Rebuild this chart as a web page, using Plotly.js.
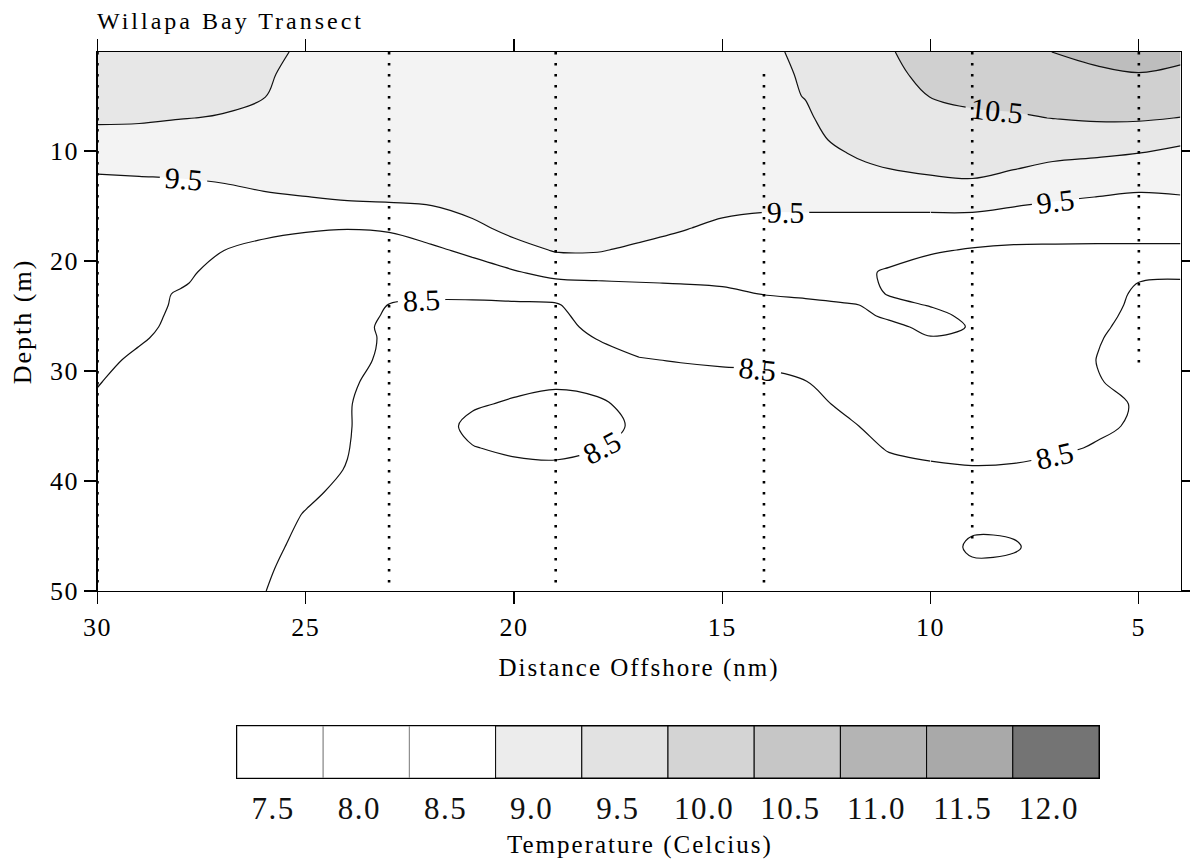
<!DOCTYPE html>
<html>
<head>
<meta charset="utf-8">
<script src="https://cdn.plot.ly/plotly-3.0.1.min.js"></script>
<style>
html,body{margin:0;padding:0;background:#fff;}
#chart{width:1190px;height:865px;}
.gtitle{letter-spacing:3px;}
.xtitle,.ytitle{letter-spacing:2px;}
.annotation-text{letter-spacing:2px;}
.xtick text,.ytick text,.x2tick text{letter-spacing:1.5px;}
</style>
</head>
<body>
<div id="chart"></div>
<script>
// Distance offshore (nm) of each grid column, depth (m) of each grid row
const distance = [30,29,28,27,26,25,24,23,22,21,20,19,18,17,16,15,14,13,12,11,10,9,8,7,6,5,4];
const depth = [1,3,5,7,9,11,13,15,17,19,21,22,23,24,25,26,27,29,31,33,35,37,39,41,43,46,48,50];

// Temperature (deg C) read from the section, one list per distance column, top to bottom
const temp30 = [10.30,10.21,10.12,10.06,9.86,9.61,9.41,9.38,9.34,9.30,9.26,9.24,9.22,9.20,9.18,9.15,9.13,9.07,9.01,8.97,8.94,8.91,8.88,8.85,8.82,8.77,8.73,8.70];
const temp29 = [10.28,10.19,10.11,10.05,9.85,9.63,9.43,9.40,9.35,9.30,9.24,9.21,9.17,9.14,9.10,9.07,9.03,8.95,8.92,8.89,8.86,8.83,8.80,8.77,8.74,8.70,8.67,8.65];
const temp28 = [10.25,10.17,10.09,10.01,9.81,9.65,9.45,9.38,9.29,9.21,9.13,9.05,8.95,8.94,8.93,8.92,8.91,8.89,8.87,8.85,8.82,8.80,8.77,8.75,8.72,8.68,8.64,8.60];
const temp27 = [10.20,10.13,10.08,9.98,9.85,9.70,9.49,9.33,9.17,9.01,8.81,8.80,8.79,8.78,8.77,8.76,8.75,8.73,8.71,8.69,8.67,8.65,8.63,8.61,8.60,8.58,8.57,8.55];
const temp26 = [10.06,10.04,10.01,9.91,9.84,9.75,9.58,9.34,9.12,8.88,8.86,8.85,8.84,8.83,8.82,8.81,8.80,8.78,8.76,8.74,8.71,8.68,8.65,8.62,8.59,8.55,8.53,8.51];
const temp25 = [9.96,9.90,9.84,9.79,9.74,9.69,9.67,9.37,9.06,8.76,8.80,8.79,8.78,8.77,8.76,8.75,8.74,8.72,8.70,8.68,8.65,8.62,8.58,8.54,8.49,8.45,8.41,8.31];
const temp24 = [9.93,9.88,9.84,9.80,9.76,9.72,9.72,9.43,9.02,8.72,8.76,8.76,8.76,8.76,8.75,8.74,8.72,8.62,8.55,8.52,8.52,8.51,8.49,8.45,8.40,8.34,8.30,8.26];
const temp23 = [9.90,9.86,9.83,9.80,9.78,9.76,9.75,9.45,9.06,8.76,8.66,8.62,8.58,8.49,8.43,8.37,8.41,8.42,8.38,8.35,8.34,8.33,8.31,8.29,8.27,8.24,8.22,8.20];
const temp22 = [9.88,9.85,9.82,9.80,9.78,9.76,9.74,9.49,9.22,8.92,8.78,8.68,8.58,8.43,8.38,8.35,8.34,8.33,8.33,8.35,8.38,8.35,8.31,8.29,8.27,8.24,8.22,8.20];
const temp21 = [9.87,9.84,9.81,9.79,9.77,9.75,9.72,9.67,9.37,9.10,8.80,8.69,8.58,8.43,8.38,8.36,8.35,8.36,8.38,8.47,8.56,8.49,8.40,8.33,8.29,8.25,8.23,8.21];
const temp20 = [9.86,9.83,9.81,9.79,9.77,9.75,9.73,9.71,9.66,9.31,8.97,8.75,8.60,8.45,8.39,8.36,8.35,8.37,8.43,8.53,8.58,8.54,8.44,8.36,8.31,8.27,8.24,8.22];
const temp19 = [9.85,9.82,9.80,9.78,9.76,9.74,9.72,9.68,9.62,9.54,9.13,8.92,8.66,8.46,8.40,8.37,8.36,8.40,8.47,8.56,8.60,8.56,8.45,8.37,8.32,8.28,8.25,8.23];
const temp18 = [9.84,9.81,9.79,9.77,9.75,9.73,9.71,9.67,9.61,9.54,9.15,8.96,8.85,8.76,8.68,8.60,8.51,8.40,8.44,8.53,8.56,8.51,8.42,8.36,8.32,8.28,8.25,8.23];
const temp17 = [9.83,9.80,9.78,9.76,9.75,9.74,9.73,9.72,9.70,9.40,9.14,8.99,8.90,8.83,8.77,8.70,8.64,8.48,8.44,8.44,8.47,8.44,8.39,8.35,8.31,8.28,8.25,8.23];
const temp16 = [9.82,9.79,9.77,9.75,9.73,9.71,9.69,9.65,9.54,9.30,9.12,9.01,8.89,8.84,8.78,8.72,8.66,8.52,8.36,8.38,8.38,8.37,8.35,8.33,8.31,8.28,8.25,8.23];
const temp15 = [9.84,9.81,9.78,9.76,9.74,9.71,9.68,9.63,9.39,9.25,9.12,9.04,8.92,8.85,8.79,8.73,8.67,8.55,8.39,8.37,8.36,8.35,8.34,8.32,8.30,8.28,8.25,8.23];
const temp14 = [9.92,9.87,9.82,9.78,9.74,9.70,9.65,9.57,9.33,9.22,9.10,9.05,9.01,8.89,8.83,8.77,8.71,8.57,8.41,8.38,8.36,8.34,8.33,8.31,8.30,8.27,8.25,8.23];
const temp13 = [10.08,10.05,10.02,9.92,9.86,9.80,9.72,9.57,9.33,9.22,9.12,9.08,9.05,8.93,8.88,8.82,8.76,8.65,8.49,8.39,8.36,8.34,8.32,8.31,8.30,8.27,8.25,8.23];
const temp12 = [10.35,10.33,10.31,10.30,10.12,9.92,9.75,9.57,9.33,9.22,9.13,9.09,9.10,8.98,8.93,8.89,8.85,8.77,8.68,8.57,8.45,8.39,8.35,8.33,8.31,8.28,8.26,8.24];
const temp11 = [10.46,10.38,10.30,10.22,10.15,10.10,9.77,9.57,9.33,9.19,8.95,8.97,8.99,9.05,9.03,8.95,8.92,8.86,8.79,8.71,8.63,8.52,8.42,8.38,8.35,8.31,8.28,8.26];
const temp10 = [10.72,10.64,10.51,10.40,10.28,10.12,9.92,9.57,9.33,9.05,8.81,8.85,8.90,8.99,9.05,9.05,8.99,8.92,8.84,8.76,8.67,8.56,8.46,8.41,8.37,8.33,8.30,8.28];
const temp9  = [10.82,10.72,10.60,10.42,10.30,10.15,9.95,9.59,9.28,8.97,8.90,8.89,8.90,8.92,8.96,8.99,8.96,8.89,8.81,8.72,8.64,8.58,8.48,8.44,8.40,8.55,8.44,8.36];
const temp8  = [10.90,10.76,10.61,10.46,10.25,10.07,9.87,9.51,9.22,8.93,8.91,8.90,8.90,8.89,8.88,8.87,8.85,8.80,8.74,8.67,8.61,8.57,8.47,8.42,8.40,8.53,8.42,8.35];
const temp7  = [11.01,10.86,10.70,10.51,10.22,9.99,9.72,9.44,9.19,8.93,8.92,8.91,8.90,8.89,8.88,8.87,8.86,8.82,8.76,8.69,8.62,8.54,8.42,8.40,8.38,8.36,8.35,8.33];
const temp6  = [11.12,10.93,10.75,10.55,10.24,9.94,9.65,9.39,9.17,8.93,8.90,8.86,8.78,8.71,8.63,8.57,8.53,8.49,8.52,8.56,8.54,8.48,8.44,8.41,8.39,8.37,8.35,8.33];
const temp5  = [11.15,10.99,10.77,10.55,10.21,9.86,9.60,9.34,9.17,8.93,8.60,8.49,8.40,8.38,8.37,8.36,8.34,8.37,8.40,8.48,8.47,8.42,8.38,8.36,8.35,8.34,8.33,8.32];
const temp4  = [11.10,10.93,10.72,10.49,10.08,9.78,9.63,9.37,9.17,8.93,8.58,8.46,8.41,8.39,8.38,8.37,8.36,8.35,8.36,8.38,8.38,8.36,8.35,8.34,8.33,8.32,8.31,8.30];

// CTD stations (dotted casts): distance, first and last sampled depth
const stationDistance = [30, 23, 19, 14, 9, 5];
const stationTop      = [1, 1, 1, 3, 1, 1];
const stationBottom   = [50, 49.5, 49.5, 49.5, 46, 30];

// Legend boxes
const legendLevels = ['7.5','8.0','8.5','9.0','9.5','10.0','10.5','11.0','11.5','12.0'];
const legendShades = ['#ffffff','#ffffff','#ffffff','#ececec','#e2e2e2','#d4d4d4','#c6c6c6','#b4b4b4','#a9a9a9','#747474'];
const legendEdges  = ['#888888','#888888','#888888','#000000','#000000','#000000','#000000','#000000','#000000','#000000'];

const xTicks = [30, 25, 20, 15, 10, 5];
const yTicks = [10, 20, 30, 40, 50];

// Distance ranges in which the labelled 8.5 / 9.5 contours get their own label
const labelSections = [[30, 17], [17, 10], [10, 4]];

// ---- build grid for the library ----
const columns = [temp30,temp29,temp28,temp27,temp26,temp25,temp24,temp23,temp22,temp21,temp20,temp19,temp18,
                 temp17,temp16,temp15,temp14,temp13,temp12,temp11,temp10,temp9,temp8,temp7,temp6,temp5,temp4];
const z = depth.map((d, i) => columns.map(col => col[i]));

const FONT = 'Liberation Serif, Times New Roman, serif';
const LABELFONT = {family: FONT, size: 30, color: '#000000'};
const LINE = {color: '#111111', width: 1.2, smoothing: 1};

const fillTrace = {
  type: 'contour', x: distance, y: depth, z: z,
  autocontour: false,
  contours: {start: 9.5, end: 11.0, size: 0.5, coloring: 'fill', showlines: false},
  colorscale: [[0,'#ffffff'],[0.18,'#ffffff'],[0.18,'#f3f3f3'],[0.44,'#f3f3f3'],
               [0.44,'#e7e7e7'],[0.69,'#e7e7e7'],[0.69,'#d0d0d0'],[0.94,'#d0d0d0'],
               [0.94,'#bdbdbd'],[1,'#bdbdbd']],
  line: {width: 0, smoothing: 1},
  showscale: false, hoverinfo: 'skip', xaxis: 'x', yaxis: 'y'
};

const plainLines = {
  type: 'contour', x: distance, y: depth, z: z,
  autocontour: false,
  contours: {start: 9.0, end: 11.0, size: 1.0, coloring: 'none', showlabels: false},
  line: LINE, showscale: false, hoverinfo: 'skip', xaxis: 'x', yaxis: 'y'
};

const line105 = {
  type: 'contour', x: distance, y: depth, z: z,
  autocontour: false,
  contours: {start: 10.5, end: 10.5, size: 1.0, coloring: 'none', showlabels: true,
             labelfont: LABELFONT, labelformat: '.1f'},
  line: LINE, showscale: false, hoverinfo: 'skip', xaxis: 'x', yaxis: 'y'
};

const labelledTraces = labelSections.map(([from, to]) => {
  const a = distance.indexOf(from), b = distance.indexOf(to);
  return {
    type: 'contour', x: distance.slice(a, b + 1), y: depth,
    z: z.map(row => row.slice(a, b + 1)),
    autocontour: false,
    contours: {start: 8.5, end: 9.5, size: 1.0, coloring: 'none', showlabels: true,
               labelfont: LABELFONT, labelformat: '.1f'},
    line: LINE, showscale: false, hoverinfo: 'skip', xaxis: 'x', yaxis: 'y'
  };
});

const sx = [], sy = [];
stationDistance.forEach((d, i) => {
  sx.push(d, d, null);
  sy.push(stationTop[i], stationBottom[i], null);
});
const stations = {
  type: 'scatter', mode: 'lines', x: sx, y: sy,
  line: {color: '#000000', width: 2.6, dash: '2.6px,8.4px'},
  cliponaxis: false, hoverinfo: 'skip', showlegend: false, xaxis: 'x', yaxis: 'y'
};

const legendBars = {
  type: 'bar', x: legendLevels, y: legendLevels.map(() => 1),
  marker: {color: legendShades, line: {color: legendEdges, width: 1}},
  width: 1, hoverinfo: 'skip', showlegend: false, xaxis: 'x2', yaxis: 'y2'
};

const W = 1190, H = 865;
const layout = {
  width: W, height: H,
  margin: {l: 0, r: 0, t: 0, b: 0},
  paper_bgcolor: '#ffffff', plot_bgcolor: '#ffffff',
  showlegend: false, hovermode: false, bargap: 0,
  font: {family: FONT, color: '#000000'},
  title: {text: 'Willapa Bay Transect', x: 97 / W, xanchor: 'left', xref: 'container',
          y: 1 - 21 / H, yanchor: 'middle', yref: 'container',
          font: {family: FONT, size: 24, color: '#000000'}},
  xaxis: {
    domain: [97.5 / W, 1180.5 / W], range: [30, 4],
    tickvals: xTicks, ticktext: xTicks.map(String),
    ticks: 'outside', ticklen: 12, tickwidth: 1.2, tickcolor: '#000',
    showline: true, linecolor: '#000', linewidth: 1.4, mirror: 'ticks',
    showgrid: false, zeroline: false,
    tickfont: {family: FONT, size: 26, color: '#000'},
    title: {text: 'Distance Offshore (nm)', standoff: 18, font: {family: FONT, size: 25, color: '#000'}}
  },
  yaxis: {
    domain: [1 - 591 / H, 1 - 52 / H], range: [50, 1],
    tickvals: yTicks, ticktext: yTicks.map(String),
    ticks: 'outside', ticklen: 12, tickwidth: 1.2, tickcolor: '#000',
    showline: true, linecolor: '#000', linewidth: 1.4, mirror: 'ticks',
    showgrid: false, zeroline: false,
    tickfont: {family: FONT, size: 26, color: '#000'},
    title: {text: 'Depth (m)', standoff: 11, font: {family: FONT, size: 26, color: '#000'}}
  },
  xaxis2: {
    domain: [237 / W, 1099 / W], anchor: 'y2', type: 'category',
    ticks: 'outside', ticklen: 3, tickcolor: 'rgba(0,0,0,0)', ticklabelshift: -7,
    showline: true, linecolor: '#000', linewidth: 1.2, mirror: true,
    showgrid: false, zeroline: false,
    tickfont: {family: FONT, size: 31, color: '#111'}
  },
  yaxis2: {
    domain: [1 - 778 / H, 1 - 726 / H], anchor: 'x2', range: [0, 1],
    showticklabels: false, ticks: '', showgrid: false, zeroline: false,
    showline: true, linecolor: '#000', linewidth: 1.2, mirror: true
  },
  annotations: [{
    text: 'Temperature (Celcius)', xref: 'paper', yref: 'paper',
    x: 640 / W, y: 1 - 845 / H, xanchor: 'center', yanchor: 'middle', showarrow: false,
    font: {family: FONT, size: 25, color: '#000'}
  }]
};

Plotly.newPlot('chart', [fillTrace, plainLines, line105].concat(labelledTraces, [stations, legendBars]), layout,
  {displayModeBar: false, staticPlot: true});
</script>
</body>
</html>
